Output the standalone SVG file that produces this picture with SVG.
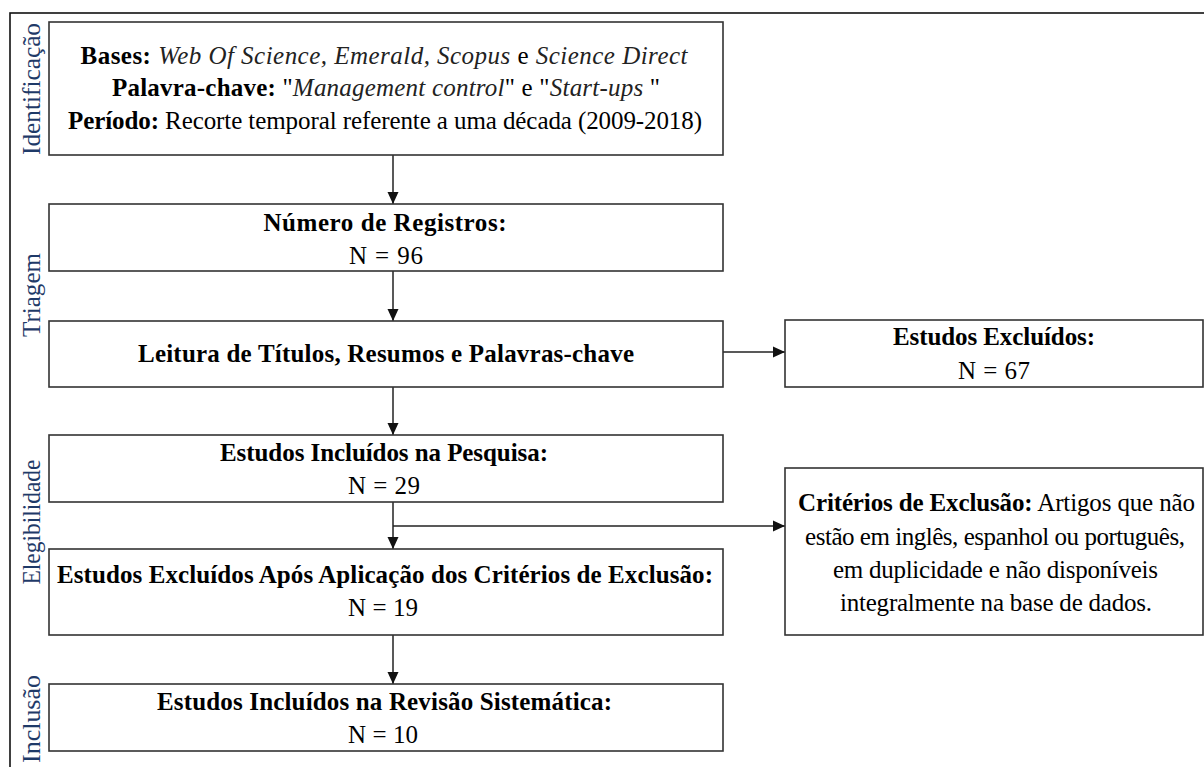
<svg xmlns="http://www.w3.org/2000/svg" width="1204" height="767" viewBox="0 0 1204 767">
<style>
.frame{fill:none;stroke:#111;stroke-width:1.6}
.box{fill:#fff;stroke:#333;stroke-width:1.6}
text{font-family:'Liberation Serif',Tinos,'Times New Roman',serif}
.t{font-size:25px;fill:#000;text-anchor:middle}
.b{font-weight:bold}
.i{font-style:italic;fill:#222}
.lab{font-size:26px;fill:#1f3a68;text-anchor:middle}
.conn{fill:none;stroke:#222;stroke-width:1.5}
</style>
<defs>
<marker id="ah" markerWidth="12" markerHeight="12" viewBox="0 0 12 12" refX="12" refY="6" orient="auto" markerUnits="userSpaceOnUse">
<path d="M0,0.5 L12,6 L0,11.5 Z" fill="#111"/>
</marker>
</defs>
<rect width="1204" height="767" fill="#fff"/>
<rect class="frame" x="10" y="13" width="1210" height="770"/>

<g id="labels">
<text class="lab" transform="translate(40,89) rotate(-90)" textLength="132" lengthAdjust="spacingAndGlyphs">Identificação</text>
<text class="lab" transform="translate(40,295) rotate(-90)" textLength="84" lengthAdjust="spacingAndGlyphs">Triagem</text>
<text class="lab" transform="translate(40,522) rotate(-90)" textLength="125" lengthAdjust="spacingAndGlyphs">Elegibilidade</text>
<text class="lab" transform="translate(40,719) rotate(-90)" textLength="88" lengthAdjust="spacingAndGlyphs">Inclusão</text>
</g>

<g id="connectors">
<line class="conn" x1="393" y1="155" x2="393" y2="204" marker-end="url(#ah)"/>
<line class="conn" x1="393" y1="271" x2="393" y2="321" marker-end="url(#ah)"/>
<line class="conn" x1="393" y1="387" x2="393" y2="435" marker-end="url(#ah)"/>
<line class="conn" x1="393" y1="502" x2="393" y2="549" marker-end="url(#ah)"/>
<line class="conn" x1="393" y1="635" x2="393" y2="684" marker-end="url(#ah)"/>
<line class="conn" x1="723" y1="352" x2="785" y2="352" marker-end="url(#ah)"/>
<line class="conn" x1="393" y1="526" x2="785" y2="526" marker-end="url(#ah)"/>
</g>

<g id="n1">
<rect class="box" x="49" y="22" width="674" height="133"/>
<text class="t" x="384" y="64" textLength="607" lengthAdjust="spacing"><tspan class="b">Bases:</tspan> <tspan class="i">Web Of Science, Emerald, Scopus</tspan> e <tspan class="i">Science Direct</tspan></text>
<text class="t" x="386" y="96" textLength="548" lengthAdjust="spacing"><tspan class="b">Palavra-chave:</tspan> "<tspan class="i">Management control</tspan>" e "<tspan class="i">Start-ups </tspan>"</text>
<text class="t" x="385" y="129" textLength="634" lengthAdjust="spacing"><tspan class="b">Período:</tspan> Recorte temporal referente a uma década (2009-2018)</text>
</g>

<g id="n2">
<rect class="box" x="49" y="204" width="674" height="67"/>
<text class="t b" x="385" y="231" textLength="243" lengthAdjust="spacing">Número de Registros:</text>
<text class="t" x="386" y="264" textLength="74" lengthAdjust="spacing">N = 96</text>
</g>

<g id="n3">
<rect class="box" x="49" y="321" width="674" height="66"/>
<text class="t b" x="386" y="362" textLength="496" lengthAdjust="spacing">Leitura de Títulos, Resumos e Palavras-chave</text>
</g>

<g id="n4">
<rect class="box" x="49" y="435" width="674" height="67"/>
<text class="t b" x="384" y="461" textLength="328" lengthAdjust="spacing">Estudos Incluídos na Pesquisa:</text>
<text class="t" x="384" y="494" textLength="72" lengthAdjust="spacing">N = 29</text>
</g>

<g id="n5">
<rect class="box" x="49" y="549" width="674" height="86"/>
<text class="t b" x="385" y="583" textLength="656" lengthAdjust="spacing">Estudos Excluídos Após Aplicação dos Critérios de Exclusão:</text>
<text class="t" x="383" y="616" textLength="70" lengthAdjust="spacing">N = 19</text>
</g>

<g id="n6">
<rect class="box" x="49" y="684" width="674" height="67"/>
<text class="t b" x="384.5" y="710" textLength="455" lengthAdjust="spacing">Estudos Incluídos na Revisão Sistemática:</text>
<text class="t" x="383" y="743" textLength="70" lengthAdjust="spacing">N = 10</text>
</g>

<g id="n7">
<rect class="box" x="785" y="320" width="418" height="67"/>
<text class="t b" x="994" y="345" textLength="202" lengthAdjust="spacing">Estudos Excluídos:</text>
<text class="t" x="994" y="379" textLength="72" lengthAdjust="spacing">N = 67</text>
</g>

<g id="n8">
<rect class="box" x="785" y="468" width="418" height="167"/>
<text class="t" x="996.5" y="511" textLength="397" lengthAdjust="spacing"><tspan class="b">Critérios de Exclusão:</tspan> Artigos que não</text>
<text class="t" x="995" y="545" textLength="380" lengthAdjust="spacing">estão em inglês, espanhol ou português,</text>
<text class="t" x="995.5" y="578" textLength="325" lengthAdjust="spacing">em duplicidade e não disponíveis</text>
<text class="t" x="996" y="611" textLength="312" lengthAdjust="spacing">integralmente na base de dados.</text>
</g>
</svg>
